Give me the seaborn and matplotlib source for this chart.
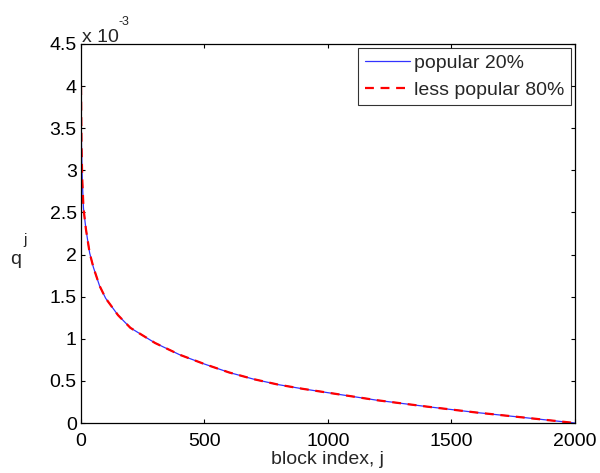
import matplotlib
matplotlib.use("Agg")
import matplotlib.pyplot as plt
import seaborn as sns
import pandas as pd
from matplotlib.ticker import FuncFormatter

sns.set_style("ticks")
plt.rcParams['font.family'] = ['Liberation Sans', 'DejaVu Sans']
plt.rcParams['xtick.direction'] = 'in'
plt.rcParams['ytick.direction'] = 'in'

# values (q in units of 1e-3)
block_j = [0, 2, 5, 10, 20, 35, 50, 75, 100, 150, 200, 300, 400, 500,
           600, 700, 800, 900, 1000, 1200, 1400, 1600, 1800, 2000]
q_popular = [4.0, 3.3, 2.9, 2.55, 2.3, 2.02, 1.85, 1.63, 1.48, 1.28, 1.13,
             0.95, 0.81, 0.70, 0.60, 0.52, 0.455, 0.405, 0.36, 0.27, 0.195,
             0.125, 0.063, 0.0]
q_less = [4.0, 3.3, 2.9, 2.55, 2.3, 2.02, 1.85, 1.63, 1.48, 1.28, 1.13,
          0.95, 0.81, 0.70, 0.60, 0.52, 0.455, 0.405, 0.36, 0.27, 0.195,
          0.125, 0.063, 0.0]

df = pd.DataFrame({'j': block_j, 'popular': q_popular, 'less': q_less})

fig = plt.figure(figsize=(6, 4.73), dpi=100)
ax = fig.add_axes([0.135, 0.1057, 0.823, 0.8013])

sns.lineplot(data=df, x='j', y='popular', ax=ax, color='#3333ff', linewidth=0.9,
             label='popular 20%')
sns.lineplot(data=df, x='j', y='less', ax=ax, color='red', linewidth=1.6,
             linestyle=(0, (4, 3)), label='less popular 80%')

ax.set_xlim(0, 2000)
ax.set_ylim(0, 4.5)
ax.set_xticks([0, 500, 1000, 1500, 2000])
ax.set_yticks([0, 0.5, 1, 1.5, 2, 2.5, 3, 3.5, 4, 4.5])
ax.yaxis.set_major_formatter(FuncFormatter(lambda v, p: '%g' % v))
ax.tick_params(which='both', top=True, right=True, length=3, width=0.8,
               labelsize=14, colors='black', pad=3)
ax.tick_params(axis='x', pad=7)
for s in ax.spines.values():
    s.set_linewidth(0.9)
    s.set_color('black')

ax.set_xlabel('block index, j', fontsize=14, labelpad=1)
ax.set_ylabel('')
fig.text(0.026, 0.452, 'q', fontsize=14, ha='center', va='center')
fig.text(0.042, 0.493, 'j', fontsize=11, ha='center', va='center')
fig.text(0.136, 0.911, 'x 10', fontsize=14, ha='left', va='baseline')
fig.text(0.198, 0.947, '-3', fontsize=9, ha='left', va='baseline')

leg = ax.legend(loc='upper right', fontsize=14, frameon=True, fancybox=False,
                borderaxespad=0.2, handlelength=2.3, handletextpad=0.2,
                borderpad=0.35, labelspacing=0.45)
leg.get_frame().set_edgecolor('black')
leg.get_frame().set_linewidth(0.8)

plt.savefig('out.png', dpi=100)
plt.close()
